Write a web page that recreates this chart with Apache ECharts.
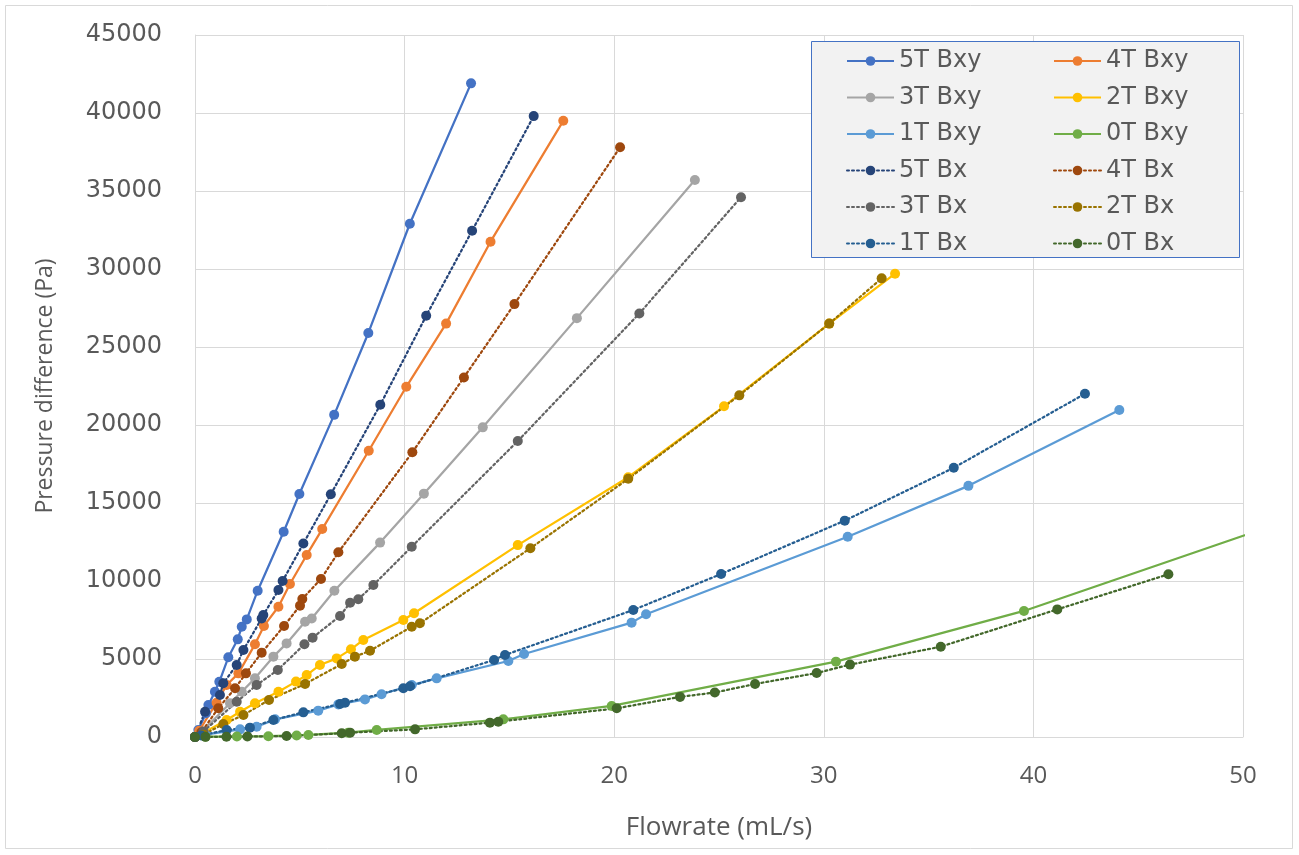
<!DOCTYPE html>
<html>
<head>
<meta charset="utf-8">
<script src="https://cdn.jsdelivr.net/npm/echarts@6/dist/echarts.min.js"></script>
<style>html,body{margin:0;padding:0;background:#fff;}#c{width:1299px;height:855px;}</style>
</head>
<body>
<div id="c"></div>
<script>
// ---- data: [flowrate (mL/s), pressure difference (Pa)] ----
const xTicks = [0, 10, 20, 30, 40, 50];
const yTicks = [0, 5000, 10000, 15000, 20000, 25000, 30000, 35000, 40000, 45000];
const seriesNames = ['5T Bxy','4T Bxy','3T Bxy','2T Bxy','1T Bxy','0T Bxy','5T Bx','4T Bx','3T Bx','2T Bx','1T Bx','0T Bx'];

const bxy5 = [[0,0],[0.16,450],[0.52,1520],[0.64,2050],[0.95,2900],[1.16,3540],[1.59,5110],[2.04,6260],[2.23,7070],[2.47,7540],[2.99,9380],[4.23,13160],[4.98,15580],[6.64,20650],[8.27,25900],[10.25,32900],[13.17,41900]];
const bxy4 = [[0,0],[0.2,400],[1.03,2200],[1.51,3330],[2.07,4080],[2.86,5940],[3.29,7120],[3.98,8350],[4.53,9810],[5.33,11670],[6.07,13330],[8.29,18350],[10.08,22450],[11.98,26500],[14.1,31750],[17.57,39500]];
const bxy3 = [[0,0],[0.3,300],[1.67,2160],[2.23,2900],[2.86,3760],[3.74,5150],[4.37,6000],[5.25,7390],[5.57,7600],[6.65,9380],[8.83,12460],[10.92,15600],[13.73,19850],[18.22,26850],[23.85,35700]];
const bxy2 = [[0,0],[0.3,200],[1.51,1090],[2.15,1620],[2.86,2160],[3.98,2900],[4.82,3550],[5.33,3970],[5.96,4620],[6.76,5040],[7.44,5620],[8.03,6220],[9.94,7500],[10.45,7930],[15.4,12300],[20.67,16650],[25.24,21200],[30.26,26500],[33.4,29700]];
const bxy1 = [[0,0],[0.5,150],[2.15,490],[2.94,660],[3.82,1130],[5.88,1690],[6.84,2090],[8.11,2410],[8.9,2740],[10.34,3330],[11.53,3760],[14.95,4870],[15.7,5320],[20.83,7330],[21.52,7870],[31.14,12840],[36.9,16100],[44.1,20960]];
const bxy0 = [[0,0],[0.5,20],[2.0,30],[3.5,50],[4.85,100],[5.41,130],[7.31,280],[8.67,450],[14.71,1130],[19.88,1990],[30.58,4830],[39.55,8080],[52.5,14050]];

const bx5 = [[0,0],[0.48,1620],[1.19,2690],[1.35,3440],[1.99,4620],[2.31,5580],[3.18,7600],[3.26,7820],[3.98,9420],[4.18,10000],[5.17,12400],[6.48,15560],[8.84,21300],[11.03,27000],[13.22,32450],[16.16,39800]];
const bx4 = [[0,0],[0.3,300],[1.11,1840],[1.91,3120],[2.43,4080],[3.18,5400],[4.25,7120],[5.01,8420],[5.12,8850],[6.01,10130],[6.84,11840],[10.37,18250],[12.83,23050],[15.24,27750],[20.28,37800]];
const bx3 = [[0,0],[0.4,350],[1.99,2260],[2.94,3330],[3.95,4300],[5.22,5940],[5.61,6370],[6.92,7760],[7.4,8610],[7.79,8830],[8.51,9740],[10.34,12200],[15.4,18970],[21.2,27150],[26.05,34600]];
const bx2 = [[0,0],[0.4,150],[1.35,830],[2.31,1410],[3.53,2370],[5.25,3400],[7.0,4680],[7.63,5150],[8.35,5530],[10.34,7070],[10.73,7290],[16.0,12100],[20.67,16550],[25.97,21900],[30.26,26500],[32.76,29400]];
const bx1 = [[0,0],[0.3,100],[1.51,450],[2.62,600],[3.74,1090],[5.17,1580],[6.92,2120],[7.16,2200],[9.94,3120],[10.26,3250],[14.27,4940],[14.79,5260],[20.91,8140],[25.1,10450],[31.0,13870],[36.2,17260],[42.46,22000]];
const bx0 = [[0,0],[0.5,10],[1.5,20],[2.5,30],[4.37,60],[7.0,240],[7.4,280],[10.5,490],[14.07,920],[14.47,980],[20.12,1840],[23.14,2570],[24.8,2850],[26.72,3400],[29.66,4100],[31.25,4640],[35.58,5790],[41.14,8180],[46.44,10430]];

const seriesData = [bxy5, bxy4, bxy3, bxy2, bxy1, bxy0, bx5, bx4, bx3, bx2, bx1, bx0];
const seriesColors = ['#4472C4','#ED7D31','#A5A5A5','#FFC000','#5B9BD5','#70AD47','#264478','#9E480E','#636363','#997300','#255E91','#43682B'];
const seriesDotted = [false,false,false,false,false,false,true,true,true,true,true,true];

const chart = echarts.init(document.getElementById('c'), null, {renderer: 'canvas'});
const series = seriesNames.map((name, i) => ({
  name: name,
  type: 'line',
  data: seriesData[i],
  symbol: 'circle',
  symbolSize: 10,
  showSymbol: true,
  clip: true,
  z: 2,
  itemStyle: { color: seriesColors[i] },
  lineStyle: seriesDotted[i]
    ? { color: seriesColors[i], width: 2.25, type: [2, 3], cap: 'round' }
    : { color: seriesColors[i], width: 2.25, type: 'solid' },
  emphasis: { disabled: true },
  animation: false
}));

const legendText = { fontFamily: 'DejaVu Sans', fontSize: 24, color: '#595959', lineHeight: 26 };
chart.setOption({
  backgroundColor: '#ffffff',
  animation: false,
  graphic: [
    { type: 'rect', z: 0, shape: { x: 5.5, y: 5.5, width: 1287, height: 843 }, style: { fill: 'none', stroke: '#D9D9D9', lineWidth: 1 } },
    { type: 'rect', z: 3, shape: { x: 811.5, y: 41.5, width: 428, height: 216 }, style: { fill: '#F2F2F2', stroke: '#4472C4', lineWidth: 1 } }
  ],
  grid: { left: 195, right: 56, top: 35, bottom: 118, containLabel: false },
  xAxis: {
    type: 'value', min: xTicks[0], max: xTicks[xTicks.length - 1], interval: 10,
    name: 'Flowrate (mL/s)', nameLocation: 'middle', nameGap: 78,
    nameTextStyle: { fontFamily: 'Open Sans', fontSize: 26, color: '#595959' },
    axisLine: { show: true, lineStyle: { color: '#D9D9D9', width: 1 } },
    axisTick: { show: false },
    axisLabel: { fontFamily: 'Open Sans', fontSize: 24, color: '#595959', margin: 27 },
    splitLine: { show: true, lineStyle: { color: '#D9D9D9', width: 1 } }
  },
  yAxis: {
    type: 'value', min: yTicks[0], max: yTicks[yTicks.length - 1], interval: 5000,
    name: 'Pressure difference (Pa)', nameLocation: 'middle', nameGap: 138, nameRotate: 90,
    nameTextStyle: { fontFamily: 'Open Sans', fontSize: 23, color: '#595959' },
    axisLine: { show: true, lineStyle: { color: '#D9D9D9', width: 1 } },
    axisTick: { show: false },
    axisLabel: { fontFamily: 'DejaVu Sans', fontSize: 24, color: '#595959', margin: 33, formatter: v => String(v) },
    splitLine: { show: true, lineStyle: { color: '#D9D9D9', width: 1 } }
  },
  legend: [
    { orient: 'vertical', left: 846, top: 48, padding: 0, itemWidth: 47, itemHeight: 12, itemGap: 10.5,
      data: ['5T Bxy','3T Bxy','1T Bxy','5T Bx','3T Bx','1T Bx'], textStyle: legendText, selectedMode: false, z: 5 },
    { orient: 'vertical', left: 1053, top: 48, padding: 0, itemWidth: 47, itemHeight: 12, itemGap: 10.5,
      data: ['4T Bxy','2T Bxy','0T Bxy','4T Bx','2T Bx','0T Bx'], textStyle: legendText, selectedMode: false, z: 5 }
  ],
  series: series
});
</script>
</body>
</html>
